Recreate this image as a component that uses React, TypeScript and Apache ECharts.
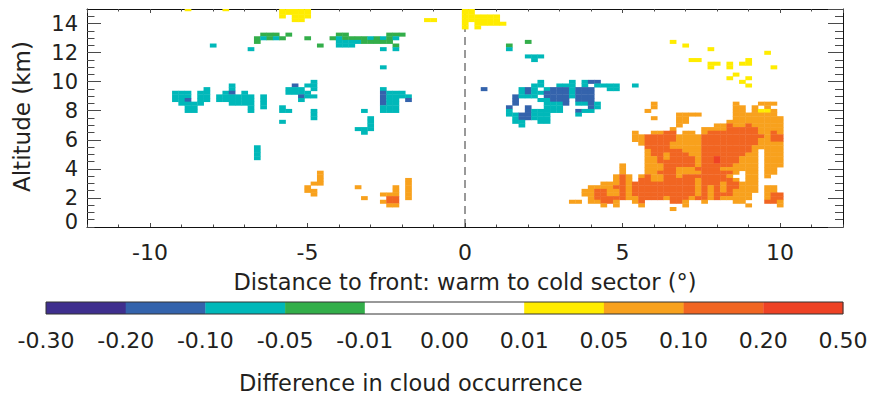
import React, { useEffect, useRef } from 'react';
import * as echarts from 'echarts';

// ---------- colour classes (difference in cloud occurrence) ----------
const colorBoundaryLabels = ['-0.30', '-0.20', '-0.10', '-0.05', '-0.01', '0.00', '0.01', '0.05', '0.10', '0.20', '0.50'];
const binColors = ['#3f2f8e', '#3463ac', '#00b8b9', '#33ae4a', '#ffffff', '#ffffff', '#ffec00', '#f8a11d', '#f16522', '#ee4225'];
// p:-0.30..-0.20  b:-0.20..-0.10  t:-0.10..-0.05  g:-0.05..-0.01  y:0.01..0.05  o:0.05..0.10  r:0.10..0.20  R:0.20..0.50
const classBin: Record<string, number> = { p: 0, b: 1, t: 2, g: 3, y: 6, o: 7, r: 8, R: 9 };

// ---------- axes ----------
const xMin = -12;
const xMax = 12;
const yMin = 0;
const yMax = 15;
const cellWidthDeg = 0.2;   // column i is centred on x = 0.2 * i
const cellHeightKm = 0.25;  // row j is centred on y = 0.25 * j

// ---------- cells: [row j, "class col..col ..."] ----------
const topYellowRows: [number, string][] = [
  [60, 'y-44 y-38 y-29..-25 y0..1'],
  [59, 'y-29..-25 y0..1'],
  [58, 'y-29 y-27..-25 y0..5'],
  [57, 'y-27..-26 y-6..-5 y0..5'],
  [56, 'y0 y2..6'],
  [55, 'y0 y2'],
];

const upperBandRows: [number, string][] = [
  [53, 'g-32..-30 g-28 g-20..-19 g-12..-10'],
  [52, 'g-33 t-32 g-31 t-30 g-29 g-25 g-21 t-20 g-19..-16 t-15 g-14 t-13 g-12 t-11'],
  [51, 'g-33 t-20..-17 g-16..-12 g10'],
  [50, 't-40 g-23 t-20..-18 g-11 g7'],
  [49, 't-34 t-13 t-11 t7'],
  [47, 't10..12'],
  [46, 't11'],
  [44, 't-13'],
];

const midLevelRows: [number, string][] = [
  [40, 't-24 t12 t17 t19 b20..21'],
  [39, 't-37 b-27 t-25..-24 t11..12 t15..17 t19 t21..24 t27'],
  [38, 't-41 t-37 t-28..-26 t-24 t-13 b3 t9 b10 t11 t13 b14..16 t17 b18..20 t23..24'],
  [37, 't-46..-44 t-42..-41 t-38 b-37 t-35 t-28..-25 b-13 t-12..-10 t9 b10 t11..12 b13..16 t17 b18..20'],
  [36, 't-46..-44 t-42..-41 t-39..-34 t-32 b-26 t-25..-24 b-13 t-12..-9 b8 t9..10 t11 b13..16 t17 b18..20'],
  [35, 't-46..-45 b-44 t-42..-41 t-39..-34 t-32 t-26 b-13 t-12..-11 b-9 b8 t12..13 b14..16 b18..20'],
  [34, 't-45..-42 t-37..-34 t-32 b-13 t-12..-11 b8 t13..15 b16 t18..19 b20 t21'],
  [33, 't-44..-43 t-34 t-32 t-29 t-13..-11 b7 b10 t13..15 b20 t21'],
  [32, 't-44..-43 t-34 t-29..-28 t-24 t-16 t-13..-11 t7 b10 t11..15 b18 t19..20'],
  [31, 't-24 t7..8 b9..10 t11..13 t18'],
  [30, 't-24 t-15 t8 b9..10 t11..13'],
  [29, 't-29 t-15 t8..9 t12..13'],
  [28, 't-15 t9'],
  [27, 't-17..-15'],
  [26, 't-16'],
  [22, 't-33'],
  [21, 't-33'],
  [20, 't-33'],
  [19, 't-33'],
];

const coldSectorYellowRows: [number, string][] = [
  [51, 'y33'],
  [50, 'y35'],
  [49, 'y39'],
  [48, 'y48'],
  [46, 'y36..37 y45'],
  [45, 'y39..40 y42 y44..45'],
  [44, 'y39 y42 y49'],
  [42, 'y43'],
  [41, 'y42 y45'],
  [40, 'y44'],
  [39, 'y45'],
];

const lowLevelRows: [number, string][] = [
  [34, 'o30 o43 o47..49'],
  [33, 'o30 o43..44 o46 o48'],
  [32, 'o29 o43..44 o46 y47..48 o49'],
  [31, 'o34..37 o43..49'],
  [30, 'o30 o34..35 o43..50'],
  [29, 'o34..35 o42..50'],
  [28, 'o34 o40..41 r42 o43..44 r45 o46..50'],
  [27, 'o33 o38..41 r42..46 o47..50'],
  [26, 'o27 o30..31 r32..33 o35..36 o38 r39..46 o47..48 r49 o50'],
  [25, 'o27..28 r29..33 o34..37 r38..47 o48 r49..50'],
  [24, 'o27..28 r29..33 o34..37 r38..46 o47..48 r49..50'],
  [23, 'o28 r29..32 o33..37 r38..46 o47..50'],
  [22, 'r29..32 o33..37 r38..45 o46..50'],
  [21, 'o29 r30..34 o35..37 r38..45 o46 o48..50'],
  [20, 'o29 r30..31 o32 r33..35 o36..37 r38..44 o45..46 o48..50'],
  [19, 'o29..30 r31 o32 r33..36 o37 r38..39 R40 r41..43 o44..46 o48..50'],
  [18, 'o29..30 r31..36 o37 r38..39 R40 r41..43 o44..46 o48..50'],
  [17, 'o25 o29..31 r32..36 o37 r38..42 o43..46 o48..50'],
  [16, 'o25 o29..31 r32..33 o34..36 r37..40 o41..46 o48..49'],
  [15, 'o-23 o25 o29..30 r31..33 o34..37 r38..42 o43 o45..46 o48..49'],
  [14, 'o-23 o24 r25 o26 o28 r29 o30..31 r32..33 o34 r35..41 o42 o45..46 o48'],
  [13, 'o-23 o-9 o24 r25 o26 r28..29 o30..31 r32..36 o37 r38..42 o43 o45..46'],
  [12, 'o-24..-23 o-9 o22..24 r25 o26 r27..36 o37 r38..40 o41 r42..43 o44..46'],
  [11, 'o-25 o-17 o-11 o-9 o20..23 r24..25 o26 r27..36 o37 r38 o39 r40 o41 r42..43 o44..46 o48..49'],
  [10, 'o-25..-24 o-11 o-9 o19..20 r21..22 o23..24 r25 o26 r27..36 o37 r38 o39 r40 o41 r42 o43..46 o48..49'],
  [9, 'o-24 o-13..-11 o-9 o19..20 r21..22 o23..24 r25 o26 r27..36 o37 r38 o39 r40..42 o43..45 o48 r49..50'],
  [8, 'o-16 r-12..-11 o-9 o20 r21..25 o26..27 r28..31 o32 r33..35 o36 r37..38 o39 r40 o41..45 o48 r49..50'],
  [7, 'o-13 r-12..-11 o17..18 o20..21 r22..23 o24 o27 r28 r33..34 o35 o38 o43..44 r48..49 o50'],
  [6, 'o-12..-11 o22 o24 o28 o35 o45 o50'],
  [5, 'o33'],
];

const FONT = "'DejaVu Sans', 'Liberation Sans', sans-serif";
const TEXT = '#231f20';

function buildCells(): number[][] {
  const map = new Map<string, number[]>();
  const groups = [topYellowRows, upperBandRows, midLevelRows, coldSectorYellowRows, lowLevelRows];
  for (const rows of groups) {
    for (const [j, spec] of rows) {
      for (const tok of spec.trim().split(/\s+/)) {
        const m = tok.match(/^([a-zA-Z])(-?\d+)(?:\.\.(-?\d+))?$/);
        if (!m) continue;
        const a = parseInt(m[2], 10);
        const b = m[3] != null ? parseInt(m[3], 10) : a;
        for (let i = a; i <= b; i++) {
          map.set(i + ',' + j, [+(i * cellWidthDeg).toFixed(2), +(j * cellHeightKm).toFixed(3), classBin[m[1]]]);
        }
      }
    }
  }
  return Array.from(map.values());
}

function buildOption(): any {
  const cells = buildCells();
  const colorbarData = binColors.map((_, k) => [k + 0.5, 0.5, k]);
  const tickStyle = { color: '#4a4a4a', width: 1 };
  const frame = { show: true, onZero: false, lineStyle: { color: '#111', width: 1 } };
  const noLine = { show: false, onZero: false };
  const gridBox = { left: 87, right: 29, top: 9, bottom: 170 };

  return {
    animation: false,
    backgroundColor: '#ffffff',
    textStyle: { fontFamily: FONT },
    grid: [
      { ...gridBox },
      { ...gridBox },
      { left: 46, right: 29, top: 302, height: 12, show: true, borderColor: '#333', borderWidth: 1, z: 10 },
    ],
    xAxis: [
      {
        gridIndex: 0, type: 'value', position: 'bottom', min: xMin, max: xMax,
        minInterval: 5, maxInterval: 5, splitNumber: 5,
        axisLine: frame,
        axisTick: { show: true, inside: true, length: 4, lineStyle: tickStyle },
        axisLabel: {
          show: true, margin: 14, fontSize: 22, color: TEXT, fontFamily: FONT,
          showMinLabel: false, showMaxLabel: false,
          formatter: (v: number) => (Math.abs(v % 5) < 1e-9 ? String(v) : ''),
        },
        splitLine: { show: false },
        name: 'Distance to front: warm to cold sector (°)',
        nameLocation: 'middle', nameGap: 43,
        nameTextStyle: { fontSize: 22.5, color: TEXT, fontFamily: FONT },
      },
      {
        gridIndex: 0, type: 'value', position: 'top', min: xMin, max: xMax,
        minInterval: 5, maxInterval: 5, splitNumber: 5,
        axisLine: frame,
        axisTick: { show: true, inside: true, length: 4, lineStyle: tickStyle },
        axisLabel: { show: false }, splitLine: { show: false },
      },
      {
        gridIndex: 1, type: 'value', position: 'bottom', min: xMin, max: xMax, interval: 1,
        axisLine: noLine,
        axisTick: { show: true, inside: true, length: 2.5, lineStyle: tickStyle },
        axisLabel: { show: false }, splitLine: { show: false },
      },
      {
        gridIndex: 1, type: 'value', position: 'top', min: xMin, max: xMax, interval: 1,
        axisLine: noLine,
        axisTick: { show: true, inside: true, length: 2.5, lineStyle: tickStyle },
        axisLabel: { show: false }, splitLine: { show: false },
      },
      {
        gridIndex: 2, type: 'value', min: 0, max: 10, interval: 1,
        axisLine: noLine, axisTick: { show: false }, splitLine: { show: false },
        axisLabel: {
          show: true, margin: 15, fontSize: 22, color: TEXT, fontFamily: FONT,
          formatter: (v: number) => colorBoundaryLabels[Math.round(v)] ?? '',
        },
      },
    ],
    yAxis: [
      {
        // major ticks with the labels 2 ... 14
        gridIndex: 0, type: 'value', position: 'left', min: yMin, max: yMax, interval: 2,
        axisLine: frame,
        axisTick: { show: true, inside: true, length: 14, lineStyle: tickStyle },
        axisLabel: {
          show: true, margin: 9, fontSize: 21, lineHeight: 16, color: TEXT, fontFamily: FONT,
          showMinLabel: false, showMaxLabel: false,
          formatter: (v: number) => (v > 0 && v % 2 === 0 ? String(v) : ''),
        },
        splitLine: { show: false },
      },
      {
        gridIndex: 0, type: 'value', position: 'right', min: yMin, max: yMax, interval: 2,
        axisLine: frame,
        axisTick: { show: true, inside: true, length: 15, lineStyle: tickStyle },
        axisLabel: { show: false }, splitLine: { show: false },
      },
      {
        // minor ticks; carries the "0" label, nudged up as in the original
        gridIndex: 1, type: 'value', position: 'left', min: yMin, max: yMax, interval: 0.5,
        axisLine: noLine,
        axisTick: { show: true, inside: true, length: 7.5, lineStyle: tickStyle },
        axisLabel: {
          show: true, margin: 9, fontSize: 21, color: TEXT, fontFamily: FONT, lineHeight: 10,
          showMinLabel: true, showMaxLabel: false, verticalAlignMinLabel: 'bottom',
          formatter: (v: number) => (v === 0 ? '0' : ''),
        },
        splitLine: { show: false },
      },
      {
        gridIndex: 1, type: 'value', position: 'right', min: yMin, max: yMax, interval: 0.5,
        axisLine: noLine,
        axisTick: { show: true, inside: true, length: 8, lineStyle: tickStyle },
        axisLabel: { show: false }, splitLine: { show: false },
      },
      {
        gridIndex: 2, type: 'value', min: 0, max: 1, show: false,
      },
    ],
    series: [
      {
        type: 'line', xAxisIndex: 0, yAxisIndex: 0, silent: true, z: 1,
        data: [[0, yMin], [0, yMax]], symbol: 'none',
        lineStyle: { color: '#333', width: 1, type: [8, 5] },
      },
      {
        type: 'custom', xAxisIndex: 0, yAxisIndex: 0, clip: true, z: 3, silent: true,
        data: cells, encode: { x: 0, y: 1 },
        renderItem: (_p: any, api: any) => {
          const x = api.value(0);
          const y = api.value(1);
          const c = api.value(2);
          const a = api.coord([x - cellWidthDeg / 2, y + cellHeightKm / 2]);
          const b = api.coord([x + cellWidthDeg / 2, y - cellHeightKm / 2]);
          return {
            type: 'rect',
            shape: { x: a[0], y: a[1], width: b[0] - a[0] + 0.4, height: b[1] - a[1] + 0.4 },
            style: { fill: binColors[c] },
          };
        },
      },
      {
        type: 'custom', xAxisIndex: 4, yAxisIndex: 4, z: 3, silent: true,
        data: colorbarData, encode: { x: 0, y: 1 },
        renderItem: (_p: any, api: any) => {
          const k = api.value(2);
          const a = api.coord([k, 1]);
          const b = api.coord([k + 1, 0]);
          return {
            type: 'rect',
            shape: { x: a[0], y: a[1], width: b[0] - a[0] + 0.3, height: b[1] - a[1] },
            style: { fill: binColors[k] },
          };
        },
      },
    ],
    graphic: [
      {
        type: 'text', x: 22, y: 192, rotation: Math.PI / 2, silent: true,
        style: {
          text: 'Altitude (km)', fontSize: 23, fontFamily: FONT, fill: TEXT,
          textAlign: 'left', textVerticalAlign: 'middle', align: 'left', verticalAlign: 'middle',
        },
      },
      {
        type: 'text', x: 239, y: 383, silent: true,
        style: {
          text: 'Difference in cloud occurrence', fontSize: 22.5, fontFamily: FONT, fill: TEXT,
          textAlign: 'left', textVerticalAlign: 'middle', align: 'left', verticalAlign: 'middle',
        },
      },
    ],
  };
}

export default function App() {
  const ref = useRef<HTMLDivElement>(null);
  useEffect(() => {
    document.body.style.margin = '0';
    if (!ref.current) return;
    const chart = echarts.init(ref.current, undefined, { renderer: 'svg' });
    chart.setOption(buildOption());
    return () => chart.dispose();
  }, []);
  return <div ref={ref} style={{ width: 872, height: 397 }} />;
}
